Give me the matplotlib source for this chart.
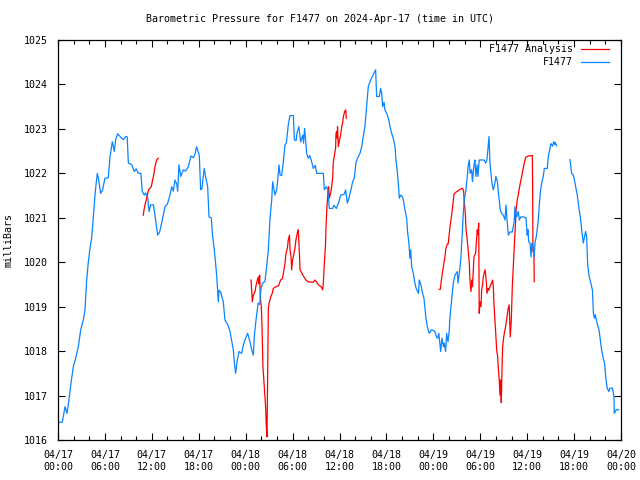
import numpy as np
import matplotlib
matplotlib.use("Agg")
import matplotlib.pyplot as plt
from matplotlib.ticker import MultipleLocator
from matplotlib.lines import Line2D

nan = np.nan

# hours since 2024-04-17 00:00 UTC, pressure in mb
obs_hours = [
    0.0, 0.55, 0.9, 1.15, 1.4, 1.66, 1.96, 2.26, 2.6, 2.9, 3.24, 3.45, 3.67, 3.88, 4.09, 4.3,
    4.52, 4.73, 4.86, 5.03, 5.16, 5.46, 5.71, 6.0, 6.43, 6.65, 6.95, 7.2, 7.37, 7.63, 8.14, 8.36,
    8.65, 8.85, 9.0, 9.42, 9.76, 10.0, 10.27, 10.6, 10.78, 11.04, 11.2, 11.47, 11.64, 11.85, 12.2,
    12.4, 12.75, 13.0, 13.34, 13.68, 14.0, 14.32, 14.54, 14.75, 14.96, 15.2, 15.3, 15.47, 15.7,
    16.03, 16.3, 16.67, 17.0, 17.3, 17.5, 17.73, 17.9, 18.07, 18.24, 18.4, 18.7, 18.9, 19.14,
    19.31, 19.6, 19.74, 19.99, 20.29, 20.5, 20.6, 20.8, 21.14, 21.35, 21.7, 22.0, 22.2, 22.42,
    22.55, 22.72, 22.93, 23.15, 23.49, 23.7, 24.0, 24.25, 24.55, 24.77, 24.98, 25.1, 25.32, 25.6,
    25.8, 25.96, 26.17, 26.47, 26.68, 26.9, 27.1, 27.33, 27.45, 27.75, 27.96, 28.1, 28.26, 28.4,
    28.6, 28.8, 29.03, 29.2, 29.45, 29.67, 30.1, 30.23, 30.45, 30.6, 30.8, 31.03, 31.3, 31.4,
    31.54, 31.7, 31.8, 32.0, 32.2, 32.44, 32.65, 32.9, 33.08, 33.93, 34.06, 34.35, 34.5, 34.7,
    35.1, 35.3, 35.6, 35.93, 36.15, 36.6, 36.79, 37.0, 37.2, 37.47, 37.68, 37.9, 38.1, 38.3,
    38.62, 38.84, 39.04, 39.25, 39.47, 39.68, 39.98, 40.2, 40.4, 40.62, 40.75, 41.1, 41.26, 41.4,
    41.52, 41.7, 41.8, 42.03, 42.25, 42.46, 42.67, 42.88, 43.1, 43.22, 43.39, 43.52, 43.65, 43.8,
    44.07, 44.2, 44.37, 44.59, 44.7, 44.88, 45.0, 45.1, 45.23, 45.44, 45.57, 45.74, 45.87, 46.1,
    46.2, 46.4, 46.63, 46.8, 46.93, 47.06, 47.23, 47.48, 47.78, 48.2, 48.4, 48.55, 48.7, 48.94,
    49.1, 49.3, 49.4, 49.57, 49.7, 49.88, 50.04, 50.13, 50.34, 50.55, 50.77, 51.06, 51.15, 51.4,
    51.53, 51.7, 51.83, 51.96, 52.17, 52.34, 52.47, 52.6, 52.7, 52.9, 53.0, 53.2, 53.32, 53.45,
    53.6, 53.7, 53.87, 54.5, 54.7, 54.85, 54.99, 55.12, 55.24, 55.37, 55.5, 55.67, 55.88, 56.0,
    56.2, 56.3, 56.43, 56.56, 56.73, 56.94, 57.17, 57.29, 57.4, 57.59, 57.8, 58.1, 58.33, 58.44,
    58.65, 58.87, 59.0, 59.2, 59.5, 59.85, 60.0, 60.1, 60.2, 60.36, 60.49, 60.6, 60.75, 60.9,
    61.0, 61.2, 61.42, 61.55, 61.7, 61.85, 62.06, 62.19, 62.57, 62.7, 62.92, 63.04, 63.25, 63.4,
    63.55, 63.6, 63.77, 64.6,
    65.47, 65.69, 65.9, 66.0, 66.2, 66.41, 66.62, 66.8, 66.97, 67.18, 67.3, 67.48, 67.6, 67.74,
    67.94, 68.1, 68.35, 68.47, 68.6, 68.7, 68.9, 69.18, 69.3, 69.52, 69.73, 69.9, 70.06, 70.24,
    70.45, 70.55, 70.9, 71.1, 71.14, 71.4, 71.7,
]
obs_mb = [
    1016.40, 1016.40, 1016.75, 1016.6, 1016.9, 1017.28, 1017.65, 1017.84, 1018.1, 1018.48, 1018.7,
    1018.93, 1019.6, 1020.01, 1020.31, 1020.54, 1021.02, 1021.51, 1021.74, 1022.0, 1021.89,
    1021.55, 1021.63, 1021.89, 1021.9, 1022.37, 1022.71, 1022.49, 1022.75, 1022.89, 1022.79,
    1022.76, 1022.83, 1022.82, 1022.23, 1022.2, 1022.04, 1022.1, 1022.0, 1022.0, 1021.59, 1021.51,
    1021.56, 1021.46, 1021.14, 1021.29, 1021.29, 1021.06, 1020.61, 1020.68, 1020.95, 1021.25,
    1021.31, 1021.51, 1021.7, 1021.6, 1021.85, 1021.75, 1021.6, 1022.19, 1021.93, 1022.08,
    1022.05, 1022.15, 1022.39, 1022.35, 1022.42, 1022.6, 1022.5, 1022.4, 1021.63, 1021.65,
    1022.11, 1021.9, 1021.7, 1021.02, 1021.0, 1020.65, 1020.28, 1019.71, 1019.11, 1019.37,
    1019.33, 1019.11, 1018.7, 1018.6, 1018.44, 1018.25, 1018.03, 1017.75, 1017.5, 1017.8,
    1017.99, 1017.95, 1018.14, 1018.29, 1018.4, 1018.21, 1018.03, 1017.91, 1018.32, 1018.7,
    1019.08, 1019.05, 1019.41, 1019.53, 1019.57, 1019.9, 1020.28, 1020.95, 1021.4, 1021.81,
    1021.51, 1021.63, 1021.85, 1022.19, 1021.96, 1021.95, 1022.23, 1022.64, 1022.68, 1023.09,
    1023.3, 1023.3, 1022.75, 1022.74, 1022.94, 1023.05, 1022.71, 1022.86, 1022.68, 1023.01,
    1022.68, 1022.45, 1022.34, 1022.4, 1022.26, 1022.11, 1022.18, 1022.0, 1022.0, 1021.63,
    1021.7, 1021.63, 1021.21, 1021.21, 1021.28, 1021.21, 1021.36, 1021.51, 1021.53, 1021.63,
    1021.33, 1021.44, 1021.63, 1021.81, 1021.9, 1022.23, 1022.34, 1022.45, 1022.6, 1022.83,
    1023.05, 1023.5, 1023.95, 1024.1, 1024.18, 1024.25, 1024.33, 1023.73, 1023.73, 1023.91,
    1023.8, 1023.5, 1023.6, 1023.43, 1023.35, 1023.24, 1023.05, 1022.9, 1022.79, 1022.6, 1022.3,
    1022.04, 1021.78, 1021.44, 1021.51, 1021.47, 1021.36, 1021.18, 1020.99, 1020.69, 1020.43,
    1020.09, 1020.28, 1019.9, 1019.75, 1019.6, 1019.45, 1019.38, 1019.3, 1019.6, 1019.5, 1019.3,
    1019.19, 1018.96, 1018.74, 1018.55, 1018.4, 1018.48, 1018.44, 1018.32, 1018.29, 1018.4,
    1017.99, 1018.29, 1018.1, 1018.18, 1017.99, 1018.4, 1018.21, 1018.48, 1018.77, 1019.15,
    1019.53, 1019.71, 1019.79, 1019.53, 1019.86, 1020.12, 1020.65, 1021.1, 1021.4, 1021.63,
    1021.93, 1022.19, 1022.3, 1022.0, 1022.08, 1021.81, 1022.19, 1022.3, 1021.93, 1022.19,
    1021.93, 1022.3, 1022.3, 1022.23, 1022.3, 1022.56, 1022.83, 1022.23, 1022.0, 1021.78,
    1021.63, 1021.78, 1021.93, 1021.81, 1021.59, 1021.4, 1021.18, 1021.1, 1021.06, 1020.95,
    1021.29, 1021.02, 1020.61, 1020.68, 1020.68, 1020.91, 1021.25, 1021.02, 1021.14, 1020.95,
    1021.02, 1021.02, 1021.0, 1020.61, 1020.73, 1020.46, 1020.43, 1020.12, 1020.43, 1020.35,
    1020.12, 1020.43, 1020.61, 1020.95, 1021.29, 1021.59, 1021.78, 1021.93, 1022.11, 1022.11,
    1022.37, 1022.56, 1022.67, 1022.61, 1022.71, 1022.65, 1022.69, 1022.62, nan,
    1022.31, 1022.0, 1021.96, 1021.89, 1021.7, 1021.51, 1021.21, 1021.02, 1020.73, 1020.43,
    1020.54, 1020.69, 1020.58, 1019.94, 1019.67, 1019.56, 1019.37, 1018.85, 1018.74, 1018.82,
    1018.66, 1018.48, 1018.33, 1018.03, 1017.84, 1017.73, 1017.39, 1017.16, 1017.09, 1017.16,
    1017.17, 1016.98, 1016.6, 1016.68, 1016.68,
]

ana_hours = [
    10.91, 11.0, 11.21, 11.3, 11.47, 11.6, 11.72, 11.93, 12.11, 12.28, 12.4, 12.62, 12.83, 18.0,
    24.68, 24.77, 24.85, 24.98, 25.2, 25.3, 25.49, 25.62, 25.7, 25.79, 25.87, 26.0, 26.09, 26.21,
    26.38, 26.55, 26.64, 26.73, 26.81, 26.9, 27.0, 27.2, 27.4, 27.53, 27.88, 28.2, 28.47, 28.7,
    28.9, 29.03, 29.16, 29.33, 29.45, 29.6, 29.67, 29.8, 29.88, 30.0, 30.1, 30.3, 30.43, 30.6,
    30.73, 30.9, 30.95, 31.2, 31.45, 31.7, 32.0, 32.4, 32.65, 32.86, 33.1, 33.3, 33.65, 33.84,
    33.93, 34.06, 34.2, 34.27, 34.37, 34.48, 34.6, 34.7, 34.86, 35.0, 35.14, 35.2, 35.35, 35.5,
    35.55, 35.63, 35.7, 35.75, 35.85, 36.0, 36.15, 36.28, 36.4, 36.5, 36.66, 36.8, 36.87, 42.0,
    48.76, 48.9, 49.0, 49.18, 49.35, 49.49, 49.6, 49.8, 49.9, 50.04, 50.2, 50.34, 50.47, 50.64,
    50.85, 51.2, 51.5, 51.75, 51.88, 51.96, 52.04, 52.1, 52.17, 52.34, 52.47, 52.6, 52.68, 52.81,
    52.94, 53.0, 53.11, 53.2, 53.4, 53.54, 53.62, 53.7, 53.8, 53.84, 53.87, 53.96, 54.1, 54.18,
    54.3, 54.39, 54.6, 54.7, 54.8, 54.86, 55.0, 55.1, 55.24, 55.45, 55.58, 55.67, 55.75, 55.88,
    56.0, 56.1, 56.22, 56.3, 56.43, 56.52, 56.6, 56.69, 56.77, 56.86, 57.0, 57.2, 57.37, 57.54,
    57.7, 57.84, 57.97, 58.1, 58.22, 58.35, 58.48, 58.6, 58.73, 58.86, 58.99, 59.16, 59.33, 59.5,
    59.63, 59.8, 60.15, 60.66, 60.7, 60.74, 60.87, 60.9,
]
ana_mb = [
    1021.06, 1021.18, 1021.36, 1021.4, 1021.55, 1021.63, 1021.66, 1021.7, 1021.85, 1022.0,
    1022.15, 1022.3, 1022.34, nan,
    1019.6, 1019.38, 1019.11, 1019.26, 1019.34, 1019.45, 1019.6, 1019.67, 1019.52, 1019.71,
    1019.22, 1019.0, 1018.55, 1017.65, 1017.2, 1016.75, 1016.3, 1016.07, 1017.5, 1018.96,
    1019.08, 1019.22, 1019.3, 1019.41, 1019.45, 1019.47, 1019.6, 1019.63, 1019.83, 1019.98,
    1020.2, 1020.31, 1020.5, 1020.61, 1020.28, 1020.13, 1019.83, 1020.05, 1020.13, 1020.31,
    1020.5, 1020.65, 1020.73, 1020.09, 1019.83, 1019.75, 1019.67, 1019.6, 1019.56, 1019.55,
    1019.55, 1019.6, 1019.55, 1019.49, 1019.45, 1019.38, 1019.53, 1019.98, 1020.35, 1020.76,
    1021.18, 1021.47, 1021.7, 1021.44, 1021.55, 1021.7, 1021.93, 1022.23, 1022.41, 1022.56,
    1022.9, 1022.94, 1022.79, 1023.05, 1022.6, 1022.75, 1022.86, 1023.05, 1023.13, 1023.28,
    1023.39, 1023.43, 1023.24, nan,
    1019.39, 1019.39, 1019.56, 1019.79, 1019.98, 1020.12, 1020.31, 1020.41, 1020.41, 1020.65,
    1020.88, 1021.06, 1021.25, 1021.53, 1021.57, 1021.61, 1021.65, 1021.66, 1021.59, 1021.33,
    1021.21, 1021.06, 1020.76, 1020.5, 1020.24, 1019.98, 1019.6, 1019.34, 1019.6, 1019.45,
    1019.83, 1020.12, 1020.2, 1020.54, 1020.73, 1020.62, 1020.88, 1019.83, 1018.85, 1019.11,
    1019.0, 1019.38, 1019.49, 1019.67, 1019.83, 1019.72, 1019.49, 1019.3, 1019.41, 1019.37,
    1019.45, 1019.53, 1019.6, 1019.45, 1019.08, 1018.7, 1018.36, 1018.03, 1017.88, 1017.65,
    1017.35, 1017.01, 1017.35, 1016.84, 1017.5, 1018.1, 1018.32, 1018.51, 1018.7, 1018.93,
    1019.04, 1018.32, 1018.7, 1019.45, 1019.9, 1020.35, 1020.8, 1021.21, 1021.4, 1021.51,
    1021.66, 1021.81, 1021.96, 1022.11, 1022.23, 1022.36, 1022.39, 1022.4, 1021.7, 1020.24,
    1020.24, 1019.56,
]

tick_hours = [0, 6, 12, 18, 24, 30, 36, 42, 48, 54, 60, 66, 72]
tick_labels = ["04/17\n00:00", "04/17\n06:00", "04/17\n12:00", "04/17\n18:00",
               "04/18\n00:00", "04/18\n06:00", "04/18\n12:00", "04/18\n18:00",
               "04/19\n00:00", "04/19\n06:00", "04/19\n12:00", "04/19\n18:00",
               "04/20\n00:00"]

plt.rcParams["font.family"] = ["DejaVu Sans Mono"]
plt.rcParams["font.size"] = 7.2

RED = "#ff0000"
BLUE = "#0a84ff"

fig = plt.figure(figsize=(6.4, 4.8), dpi=100)
ax = fig.add_axes([58 / 640, 40 / 480, 563 / 640, 400 / 480])

ax.plot(ana_hours, ana_mb, color=RED, lw=0.9)
ax.plot(obs_hours, obs_mb, color=BLUE, lw=0.9)

ax.set_xlim(0, 72)
ax.set_ylim(1016, 1025)
ax.set_xticks(tick_hours)
ax.set_xticklabels(tick_labels, linespacing=1.25)
ax.xaxis.set_minor_locator(MultipleLocator(2))
ax.yaxis.set_major_locator(MultipleLocator(1))
ax.tick_params(which="both", direction="in", top=True, right=True, width=0.8)
ax.tick_params(which="major", length=5)
ax.tick_params(which="minor", length=3)
ax.tick_params(axis="y", pad=7)
ax.tick_params(axis="x", pad=7)
for s in ax.spines.values():
    s.set_linewidth(0.9)

ax.set_ylabel("milliBars", labelpad=8)
fig.text(0.5, 1 - 19 / 480, "Barometric Pressure for F1477 on 2024-Apr-17 (time in UTC)",
         ha="center", va="center")

# gnuplot-style key: right-aligned text, line sample on the right
for yk, lbl, col in [(0.9775, "F1477 Analysis", RED), (0.945, "F1477", BLUE)]:
    ax.text(0.915, yk, lbl, transform=ax.transAxes, ha="right", va="center")
    ax.add_line(Line2D([0.929, 0.979], [yk, yk], transform=ax.transAxes, color=col, lw=0.9))

fig.savefig("out.png", dpi=100, facecolor="white")
